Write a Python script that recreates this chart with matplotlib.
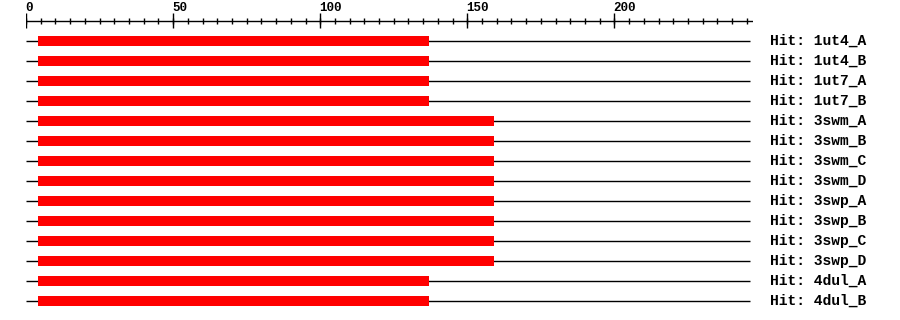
import numpy as np
import matplotlib.pyplot as plt

# hits and aligned ranges (residue positions on the query)
hits = ['1ut4_A', '1ut4_B', '1ut7_A', '1ut7_B',
        '3swm_A', '3swm_B', '3swm_C', '3swm_D',
        '3swp_A', '3swp_B', '3swp_C', '3swp_D',
        '4dul_A', '4dul_B']
hit_start = [4, 4, 4, 4, 4, 4, 4, 4, 4, 4, 4, 4, 4, 4]
hit_end = [137, 137, 137, 137, 159, 159, 159, 159, 159, 159, 159, 159, 137, 137]
query_len = 246
axis_len = 247

font = ['Liberation Mono', 'DejaVu Sans Mono']

fig = plt.figure(figsize=(9, 3.2), dpi=100)
ax = fig.add_axes([26 / 900, 0, 726.7 / 900, 1])
ax.set_xlim(0, axis_len)
ax.set_ylim(13.95, -2.05)
ax.axis('off')

rows = np.arange(len(hits))
starts = np.array(hit_start)
ends = np.array(hit_end)

# thin line = full query, red bar = aligned region
ax.hlines(rows, 0, query_len, color='black', lw=1.0, zorder=1)
ax.barh(rows, ends - starts, left=starts, height=0.47, color='#ff0000',
        edgecolor='none', zorder=2)

for r, h in zip(rows, hits):
    ax.text(253, r, 'Hit: ' + h, fontsize=10.5, fontweight='bold', family=font,
            va='center', ha='left', clip_on=False)

# ruler on top
ax.hlines(-1, 0, axis_len, color='black', lw=1.0)
minor = np.arange(0, axis_len, 5)
major = np.arange(0, axis_len, 50)
ax.vlines(minor, -1.15, -0.85, color='black', lw=1.0)
ax.vlines(major, -1.4, -0.65, color='black', lw=1.0)
for m in major:
    ax.text(m - 0.3, -1.65, str(m), fontsize=9, fontweight='bold', family=font,
            va='center', ha='left')

fig.savefig('out.png', dpi=100)
